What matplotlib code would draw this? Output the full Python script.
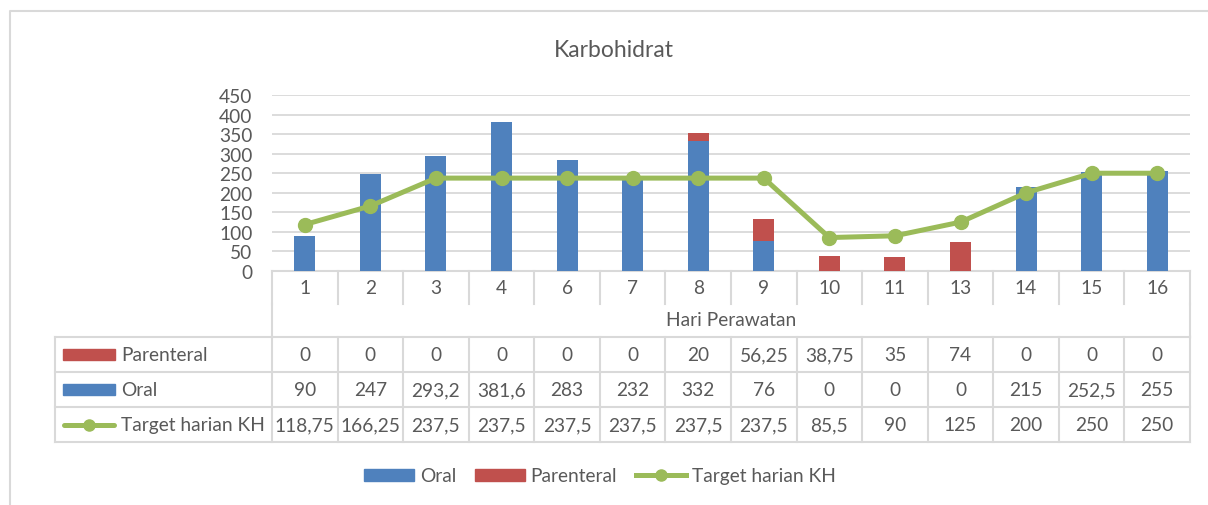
import matplotlib.pyplot as plt
from matplotlib.lines import Line2D
from matplotlib.patches import Patch

plt.rcParams["font.family"] = ["Lato", "DejaVu Sans"]

days = ["1", "2", "3", "4", "6", "7", "8", "9", "10", "11", "13", "14", "15", "16"]
oral = [90, 247, 293.2, 381.6, 283, 232, 332, 76, 0, 0, 0, 215, 252.5, 255]
parenteral = [0, 0, 0, 0, 0, 0, 20, 56.25, 38.75, 35, 74, 0, 0, 0]
target = [118.75, 166.25, 237.5, 237.5, 237.5, 237.5, 237.5, 237.5, 85.5, 90, 125, 200, 250, 250]

BLUE = "#4F81BD"
RED = "#C0504D"
GREEN = "#9BBB59"
GRID = "#D9D9D9"
TXT = "#595959"
FS = 13.8

W, H = 1208, 506
fig = plt.figure(figsize=(W / 100, H / 100), dpi=100)

# overlay in pixel coordinates for the frame and the data table
lay = fig.add_axes([0, 0, 1, 1], zorder=0)
lay.set_xlim(0, W)
lay.set_ylim(H, 0)
lay.axis("off")
lay.patch.set_alpha(0)

x0, x1 = 272, 1190
y_top, y_zero = 96, 272
ax = fig.add_axes([x0 / W, 1 - y_zero / H, (x1 - x0) / W, (y_zero - y_top) / H], zorder=1)
ax.patch.set_alpha(0)

n = len(days)
xs = range(n)
ax.bar(xs, oral, width=0.32, color=BLUE, zorder=2)
ax.bar(xs, parenteral, width=0.32, bottom=oral, color=RED, zorder=2)
ax.plot(xs, target, color=GREEN, lw=3.6, marker="o", ms=10, zorder=3)

ax.set_xlim(-0.5, n - 0.5)
ax.set_ylim(0, 450)
ax.set_yticks(range(0, 451, 50))
ax.yaxis.grid(True, color=GRID, lw=1.3)
ax.set_axisbelow(True)
ax.set_xticks([])
ax.tick_params(axis="y", length=0, pad=14, labelsize=FS, labelcolor=TXT)
for s in ax.spines.values():
    s.set_visible(False)

ax.set_title("Karbohidrat", fontsize=16.5, color=TXT, pad=28, x=(614 - x0) / (x1 - x0))

# outer chart frame
lay.plot([10, 10, W], [H, 12, 12], color=GRID, lw=1.5)

# category row and data table
cw = (x1 - x0) / n
lc = dict(color=GRID, lw=1.5)
lay.plot([x0, x1], [y_zero, y_zero], **lc)
for i in range(n + 1):
    lay.plot([x0 + i * cw] * 2, [y_zero, 305], **lc)
    lay.plot([x0 + i * cw] * 2, [338, 443], **lc)
for i, d in enumerate(days):
    lay.text(x0 + (i + 0.5) * cw, 289, d, ha="center", va="center", fontsize=FS, color=TXT)
lay.plot([x0, x0], [305, 338], **lc)
lay.plot([x1, x1], [305, 338], **lc)
lay.text((x0 + x1) / 2, 321, "Hari Perawatan", ha="center", va="center", fontsize=FS, color=TXT)

tl = 55
rows = [338, 373, 408, 443]
for y in rows:
    lay.plot([tl, x1], [y, y], **lc)
lay.plot([tl, tl], [338, 443], **lc)

def fmt(v):
    return f"{v:g}".replace(".", ",")

series = [("Parenteral", parenteral), ("Oral", oral), ("Target harian KH", target)]
for r, (name, vals) in enumerate(series):
    yc = (rows[r] + rows[r + 1]) / 2
    if name == "Target harian KH":
        lay.plot([64, 114], [yc, yc], color=GREEN, lw=3.6, solid_capstyle="round")
        lay.plot([89], [yc], "o", color=GREEN, ms=8)
    else:
        lay.add_patch(plt.Rectangle((63, yc - 5.5), 52, 11, color=RED if r == 0 else BLUE))
    lay.text(121, yc, name, ha="left", va="center", fontsize=FS, color=TXT)
    for i, v in enumerate(vals):
        lay.text(x0 + (i + 0.5) * cw, yc, fmt(v), ha="center", va="center", fontsize=FS, color=TXT)

handles = [
    Patch(color=BLUE, label="Oral"),
    Patch(color=RED, label="Parenteral"),
    Line2D([], [], color=GREEN, lw=3.6, marker="o", ms=8, label="Target harian KH"),
]
fig.legend(handles=handles, loc="center", bbox_to_anchor=(600 / W, 1 - 477 / H), ncol=3,
           frameon=False, fontsize=FS, labelcolor=TXT, handlelength=2.6, handleheight=0.6,
           handletextpad=0.3, columnspacing=1.0)

fig.savefig("out.png", dpi=100)
